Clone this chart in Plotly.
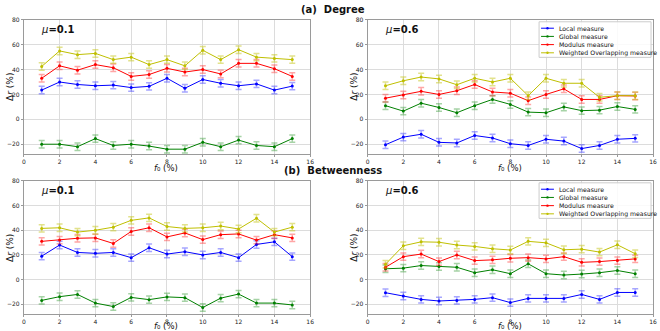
import plotly.graph_objects as go

f0 = list(range(1, 16))
series_names = ["Local measure", "Global measure", "Modulus measure", "Weighted Overlapping measure"]
colors = ["#0000ff", "#008000", "#ff0000", "#bfbf00"]
err_colors = ["rgba(0,0,255,0.35)", "rgba(0,128,0,0.35)", "rgba(255,0,0,0.35)", "rgba(191,191,0,0.45)"]

# (a) Degree, mu=0.1
deg01_local = [23.5, 30, 28, 27, 27.5, 25.5, 26.5, 33, 25, 32, 29, 27, 28.5, 23.5, 26.7]
deg01_global = [-20, -20, -22, -15.5, -21, -20, -21.5, -24, -24, -18.5, -22, -16.7, -21, -22, -15.5]
deg01_modulus = [33, 43, 39.5, 44, 41.5, 34.5, 36, 41, 38, 40, 36.5, 45, 45, 40.7, 34.5]
deg01_wo = [42.5, 55, 52, 53, 48, 50, 44, 48, 43, 55.5, 48, 56, 50, 49, 48]
# (a) Degree, mu=0.6
deg06_local = [-20.4, -14.3, -12, -18.5, -19, -13, -15, -19.6, -21, -16, -17.5, -23.5, -21, -16, -15.3]
deg06_global = [11, 6.6, 13, 9.5, 5.3, 11, 16, 12, 5.8, 5.3, 10, 7, 7.4, 10.3, 8]
deg06_modulus = [17, 19.5, 22.5, 20, 23, 28, 22, 21, 15, 20, 24.5, 16, 16, 19, 18.8]
deg06_wo = [27, 31, 34, 32.5, 27.8, 33, 30, 33, 19, 33, 29, 29, 17.7, 19, 19]
# (b) Betweenness, mu=0.1
bet01_local = [19, 28, 22, 21.3, 22, 17.8, 25.8, 20.7, 22.6, 20, 22, 17.8, 28.5, 30.6, 18.6]
bet01_global = [-16.8, -13.8, -12, -19, -21.8, -14.4, -16.2, -14, -14.6, -22.6, -15, -11.7, -19, -19, -20.5]
bet01_modulus = [31, 32, 33.5, 33.8, 29.3, 39, 42, 34.6, 37.8, 32.4, 36.4, 37, 32, 36.4, 33.8]
bet01_wo = [41.5, 42, 38.5, 40, 42.5, 48, 50, 43, 41.5, 42, 43.4, 41, 49.7, 38.5, 42.5]
# (b) Betweenness, mu=0.6
bet06_local = [-10.6, -13.3, -16, -17.3, -16.8, -16, -14.6, -18.6, -15.2, -15.2, -15.2, -12, -16, -10.4, -10.4]
bet06_global = [8.8, 9.3, 11.4, 10.6, 10, 5.6, 8, 4.8, 12.8, 4.8, 3.7, 4.5, 5.6, 7.4, 4.8]
bet06_modulus = [10, 18.6, 20.7, 14.6, 20, 15.4, 16, 17.3, 17.8, 16.8, 18.6, 14, 14.6, 15.4, 16.8]
bet06_wo = [12.5, 27.4, 30.6, 30.3, 28, 26.9, 25, 24, 31, 29.8, 24.2, 24.7, 22.3, 28.2, 21]

error_size = [3] * 15

x_ticks = [0, 2, 4, 6, 8, 10, 12, 14, 16]
y_ticks = [-20, 0, 20, 40, 60, 80]
y_ticktext = ["\u221220", "0", "20", "40", "60", "80"]

panels = [
    ("x", "y", [deg01_local, deg01_global, deg01_modulus, deg01_wo]),
    ("x2", "y2", [deg06_local, deg06_global, deg06_modulus, deg06_wo]),
    ("x3", "y3", [bet01_local, bet01_global, bet01_modulus, bet01_wo]),
    ("x4", "y4", [bet06_local, bet06_global, bet06_modulus, bet06_wo]),
]

fig = go.Figure()
for xa, ya, data in panels:
    for i, vals in enumerate(data):
        fig.add_trace(go.Scatter(
            x=f0, y=vals, xaxis=xa, yaxis=ya, mode="lines+markers",
            name=series_names[i],
            line=dict(color=colors[i], width=1),
            marker=dict(color=colors[i], size=3),
            error_y=dict(type="data", array=error_size, color=err_colors[i], thickness=1.5, width=3),
            showlegend=False,
        ))

W, H = 660, 331
def xd(a, b):
    return [a / W, b / W]
def yd(t, b):
    return [1 - b / H, 1 - t / H]
def px(x):
    return x / W
def py(y):
    return 1 - y / H

font = "DejaVu Sans"
axis_common = dict(
    showline=True, mirror=True, linecolor="#9a9a9a", linewidth=1,
    showgrid=True, gridcolor="#dcdcdc", gridwidth=1, zeroline=False,
    ticks="outside", ticklen=2, tickcolor="#9a9a9a",
    tickfont=dict(size=6, family=font, color="#222"),
)
layout_axes = {}
for k, (xa, ya, xdom, ydom) in enumerate([
    ("xaxis", "yaxis", xd(22, 311), yd(16, 152)),
    ("xaxis2", "yaxis2", xd(369, 657), yd(16, 152)),
    ("xaxis3", "yaxis3", xd(22, 311), yd(179, 314)),
    ("xaxis4", "yaxis4", xd(369, 657), yd(179, 314)),
]):
    anchor_x = "y" if k == 0 else f"y{k+1}"
    anchor_y = "x" if k == 0 else f"x{k+1}"
    layout_axes[xa] = dict(axis_common, domain=xdom, anchor=anchor_x, range=[0, 16], tickvals=x_ticks)
    layout_axes[ya] = dict(axis_common, domain=ydom, anchor=anchor_y, range=[-28, 80],
                           tickvals=y_ticks, ticktext=y_ticktext)

fig.update_layout(
    width=W, height=H,
    margin=dict(l=0, r=0, t=0, b=0),
    paper_bgcolor="white", plot_bgcolor="white",
    font=dict(family=font, color="#111"),
    showlegend=False,
    **layout_axes,
)

def ann(x, y, text, size, xanchor="center", angle=0):
    fig.add_annotation(xref="paper", yref="paper", x=px(x), y=py(y), text=text,
                       showarrow=False, xanchor=xanchor, yanchor="middle", textangle=angle,
                       font=dict(size=size, family=font, color="#111"))

# panel titles
ann(334, 6, "<b>(a)  Degree</b>", 10)
ann(334, 169, "<b>(b)  Betweenness</b>", 10)
# mu labels
for xp, yp, txt in [(37, 26, "<i>μ</i><b>=0.1</b>"), (384, 26, "<i>μ</i><b>=0.6</b>"),
                    (37, 189, "<i>μ</i><b>=0.1</b>"), (384, 189, "<i>μ</i><b>=0.6</b>")]:
    ann(xp, yp, txt, 10, xanchor="left")
# axis titles
ftitle = "<i>f</i>\u2080 (%)"
rtitle = "Δ<i>r</i> (%)"
for xc, yc in [(166, 166), (513, 166), (166, 325.5), (513, 325.5)]:
    ann(xc, yc, ftitle, 8.5)
for xc, yc in [(8, 84), (355, 84), (8, 247), (355, 247)]:
    ann(xc, yc, rtitle, 9, angle=-90)

# manual legends (matplotlib-style)
for top in [18, 181]:
    fig.add_shape(type="rect", xref="paper", yref="paper",
                  x0=px(542), x1=px(655), y0=py(top + 36), y1=py(top),
                  line=dict(color="#cccccc", width=1), fillcolor="rgba(255,255,255,0.85)", layer="above")
    for i, name in enumerate(series_names):
        yy = top + 6.5 + 8.3 * i
        fig.add_shape(type="line", xref="paper", yref="paper",
                      x0=px(544), x1=px(557), y0=py(yy), y1=py(yy),
                      line=dict(color=colors[i], width=1), layer="above")
        fig.add_shape(type="circle", xref="paper", yref="paper",
                      x0=px(549.3), x1=px(551.7), y0=py(yy + 1.2), y1=py(yy - 1.2),
                      line=dict(color=colors[i], width=0), fillcolor=colors[i], layer="above")
        ann(560, yy, name, 6.2, xanchor="left")

fig.write_html("out.html", config={"displayModeBar": False})
with open("out.html", "r", encoding="utf-8") as fh:
    html = fh.read()
html = html.replace("<head>", "<head><style>html,body{margin:0;padding:0;overflow:hidden;}</style>", 1)
with open("out.html", "w", encoding="utf-8") as fh:
    fh.write(html)
